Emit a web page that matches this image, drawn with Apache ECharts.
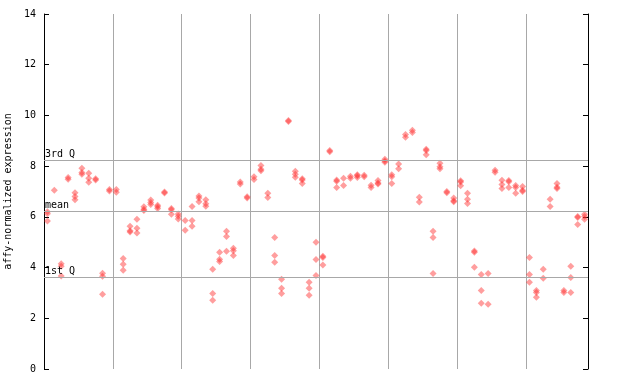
<!DOCTYPE html>
<html>
<head>
<meta charset="utf-8">
<script src="https://cdn.jsdelivr.net/npm/echarts@6/dist/echarts.min.js"></script>
<style>html,body{margin:0;padding:0;background:#fff}#c{width:640px;height:384px}</style>
</head>
<body>
<div id="c"></div>
<script>
// replicate values per sample (79 samples, null = no replicate)
var rep1 = [6.2,7.05,4.15,7.55,6.95,7.92,7.72,7.5,3.78,7.08, 7.08,4.36,5.63,5.91,6.4,6.66,6.46,6.98,6.33,6.11, 5.86,6.41,6.82,6.67,3.93,4.6,5.43,4.76,7.37,6.79, 7.58,8.03,6.93,5.19,3.54,9.8,7.8,7.5,3.42,5.0, 4.45,8.62,7.45,7.52,7.6,7.66,7.64,7.25,7.43,8.27, 7.66,8.08,9.25,9.42,6.77,8.67,5.43,8.11,7.0,6.74, 7.42,6.93,4.65,3.73,3.77,7.84,7.44,7.43,7.24,7.2, 4.4,3.1,3.93,6.69,7.32,3.1,4.05,6.01,6.1];
var rep2 = [6.12,null,4.05,7.48,6.8,7.75,7.52,7.45,3.66,7.02, 6.97,4.13,5.45,5.55,6.3,6.57,6.4,6.94,6.28,6.02, 5.47,5.86,6.74,6.52,2.98,4.33,5.23,4.66,7.3,6.74, 7.47,7.88,6.76,4.48,3.18,9.76,7.68,7.45,3.18,4.32, 4.4,8.57,7.4,7.24,7.52,7.62,7.58,7.16,7.34,8.2, 7.58,7.9,9.14,9.33,6.59,8.62,5.19,7.98,6.95,6.64, 7.37,6.69,4.6,3.1,2.55,7.76,7.28,7.38,7.16,7.05, 3.73,3.02,3.58,6.41,7.17,3.02,3.61,5.97,6.01];
var rep3 = [5.84,null,3.67,null,6.67,7.68,7.36,null,2.95,null, null,3.89,5.4,5.36,6.25,6.49,6.33,null,6.1,5.92, null,5.63,6.6,6.42,2.71,4.24,4.64,4.48,null,null, null,7.82,null,4.21,2.98,null,7.56,7.32,2.91,3.69, 4.1,null,7.16,null,null,7.55,null,null,7.3,8.15, 7.32,null,null,null,null,8.45,3.77,7.9,null,6.6, 7.23,6.53,4.01,2.59,null,null,7.12,7.16,6.93,7.0, 3.42,2.83,null,null,7.12,null,3.02,5.7,5.91];
var refLines = [{name:'3rd Q', value:8.23},{name:'mean', value:6.22},{name:'1st Q', value:3.62}];
var yTicks = {min:0, max:14, interval:2};
var sampleCount = rep1.length;
var groupSize = 10;

var pts = [];
[rep1, rep2, rep3].forEach(function(r){
  r.forEach(function(v, i){ if (v !== null) pts.push([i + 0.5, v]); });
});

var font = 'DejaVu Sans Mono, monospace';
var chart = echarts.init(document.getElementById('c'), null, {renderer:'canvas'});
chart.setOption({
  animation:false,
  grid:{left:44, right:52, top:14, bottom:15, containLabel:false, outerBoundsMode:'none'},
  xAxis:{type:'value', min:0, max:sampleCount, interval:groupSize,
    axisLine:{show:false}, axisTick:{show:false}, axisLabel:{show:false},
    splitLine:{show:true, lineStyle:{color:'#a8a8a8', width:1}}},
  yAxis:[{type:'value', min:yTicks.min, max:yTicks.max, interval:yTicks.interval, position:'left',
    name:'affy-normalized expression', nameLocation:'middle', nameGap:27, nameRotate:90,
    nameTextStyle:{fontFamily:font, fontSize:10, color:'#000'},
    axisLine:{show:true, lineStyle:{color:'#000', width:1}},
    axisTick:{show:true, inside:true, length:5, lineStyle:{color:'#000'}},
    axisLabel:{fontFamily:font, fontSize:10, color:'#000', margin:8},
    splitLine:{show:false}},
   {type:'value', min:yTicks.min, max:yTicks.max, interval:yTicks.interval, position:'right',
    axisLine:{show:true, lineStyle:{color:'#000', width:1}},
    axisTick:{show:true, inside:true, length:5, lineStyle:{color:'#000'}},
    axisLabel:{show:false}, splitLine:{show:false}}],
  series:[{type:'scatter', data:pts, symbol:'diamond', symbolSize:[7,7],
    itemStyle:{color:'rgba(255,45,45,0.58)'},
    markLine:{silent:true, symbol:'none', animation:false,
      lineStyle:{color:'#a8a8a8', type:'solid', width:1},
      label:{position:'insideStartTop', formatter:'{b}', fontFamily:font, fontSize:10, color:'#000', distance:[1,1]},
      data:refLines.map(function(r){return {name:r.name, yAxis:r.value};})}
  }]
});
</script>
</body>
</html>
